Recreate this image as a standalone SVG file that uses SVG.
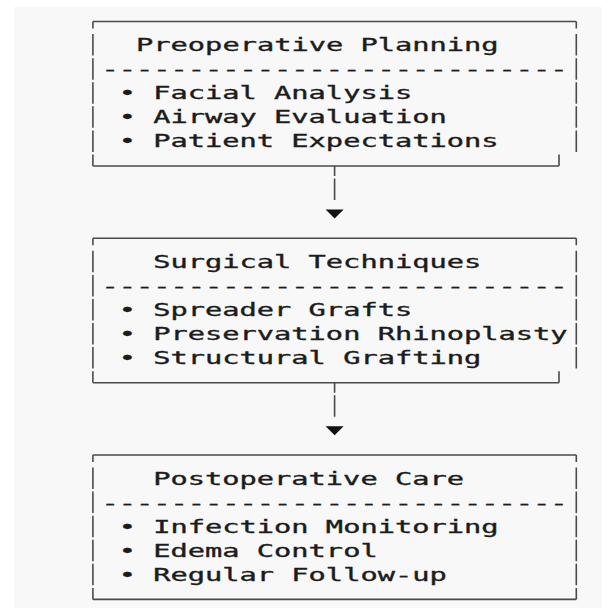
<svg xmlns="http://www.w3.org/2000/svg" width="616" height="608" viewBox="0 0 616 608">
<style>
  .bg { fill: #f8f8f8; }
  .t { font-family: "DejaVu Sans Mono", "Liberation Mono", monospace; font-size: 17.3px; fill: #1c1c1c; stroke: #1c1c1c; stroke-width: 0.35; }
  .b { fill: none; stroke: #4a4a4a; stroke-width: 1.6; stroke-linecap: butt; }
  .arrow { fill: #111; }
</style>
<rect x="0" y="0" width="616" height="608" fill="#ffffff"/>
<rect class="bg" x="14" y="7" width="588" height="601"/>

<g id="node-preop">
  <path class="b" d="M92.9,21.5 H576.3 M92.9,165.98 H559 M92.9,21.5 V28.5 M92.9,34.08 V55.58 M92.9,58.16 V79.66 M92.9,82.24 V103.74 M92.9,106.32 V127.82 M92.9,130.4 V151.9 M92.9,154.48 V165.98 M576.3,21.5 V28.5 M576.3,34.08 V55.58 M576.3,58.16 V79.66 M576.3,82.24 V103.74 M576.3,106.32 V127.82 M576.3,130.4 V151.9 M559,154.48 V165.98"/>
  <g transform="scale(1.6575 1)">
    <text class="t" x="82.11" y="51.08">Preoperative Planning</text>
    <text class="t" x="61.24" y="75.16">---------------------------</text>
    <text class="t" x="71.67" y="99.24">• Facial Analysis</text>
    <text class="t" x="71.67" y="123.32">• Airway Evaluation</text>
    <text class="t" x="71.67" y="147.4">• Patient Expectations</text>
  </g>
</g>

<g id="node-surgical" transform="translate(0,216.72)">
  <path class="b" d="M92.9,21.5 H576.3 M92.9,165.98 H559 M92.9,21.5 V28.5 M92.9,34.08 V55.58 M92.9,58.16 V79.66 M92.9,82.24 V103.74 M92.9,106.32 V127.82 M92.9,130.4 V151.9 M92.9,154.48 V165.98 M576.3,21.5 V28.5 M576.3,34.08 V55.58 M576.3,58.16 V79.66 M576.3,82.24 V103.74 M576.3,106.32 V127.82 M576.3,130.4 V151.9 M559,154.48 V165.98"/>
  <g transform="scale(1.6575 1)">
    <text class="t" x="92.49" y="51.08">Surgical Techniques</text>
    <text class="t" x="61.24" y="75.16">---------------------------</text>
    <text class="t" x="71.67" y="99.24">• Spreader Grafts</text>
    <text class="t" x="71.67" y="123.32">• Preservation Rhinoplasty</text>
    <text class="t" x="71.67" y="147.4">• Structural Grafting</text>
  </g>
</g>

<g id="node-postop" transform="translate(0,433.44)">
  <path class="b" d="M92.9,21.5 H576.3 M92.9,165.98 H576.3 M92.9,21.5 V28.5 M92.9,34.08 V55.58 M92.9,58.16 V79.66 M92.9,82.24 V103.74 M92.9,106.32 V127.82 M92.9,130.4 V151.9 M92.9,154.48 V165.98 M576.3,21.5 V28.5 M576.3,34.08 V55.58 M576.3,58.16 V79.66 M576.3,82.24 V103.74 M576.3,106.32 V127.82 M576.3,130.4 V151.9 M576.3,154.48 V165.98"/>
  <g transform="scale(1.6575 1)">
    <text class="t" x="92.49" y="51.08">Postoperative Care</text>
    <text class="t" x="61.24" y="75.16">---------------------------</text>
    <text class="t" x="71.67" y="99.24">• Infection Monitoring</text>
    <text class="t" x="71.67" y="123.32">• Edema Control</text>
    <text class="t" x="71.67" y="147.4">• Regular Follow-up</text>
  </g>
</g>

<g id="connectors">
  <g id="edge-preop-surgical">
    <path class="b" d="M334.6,165.98 V175.98 M334.6,178.56 V200.06"/>
    <polygon class="arrow" points="325.6,209.6 343.6,209.6 334.6,218.6"/>
  </g>
  <g id="edge-surgical-postop" transform="translate(0,216.72)">
    <path class="b" d="M334.6,165.98 V175.98 M334.6,178.56 V200.06"/>
    <polygon class="arrow" points="325.6,209.6 343.6,209.6 334.6,218.6"/>
  </g>
</g>
</svg>
